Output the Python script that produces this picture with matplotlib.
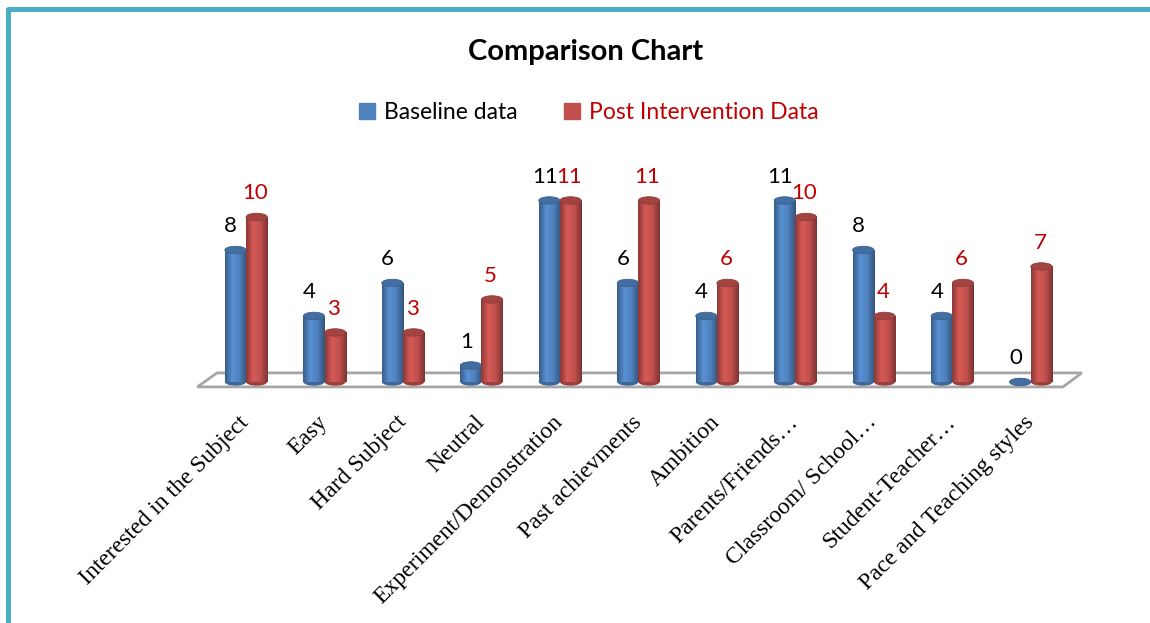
import numpy as np
import matplotlib
matplotlib.use("Agg")
import matplotlib.pyplot as plt
from matplotlib.patches import Ellipse, Polygon, Patch
from matplotlib.lines import Line2D
from matplotlib.colors import LinearSegmentedColormap

categories = ["Interested in the Subject", "Easy", "Hard Subject", "Neutral",
              "Experiment/Demonstration", "Past achievments", "Ambition",
              "Parents/Friends…", "Classroom/ School…", "Student-Teacher…",
              "Pace and Teaching styles"]
baseline = [8, 4, 6, 1, 11, 6, 4, 11, 8, 4, 0]
post = [10, 3, 3, 5, 11, 11, 6, 10, 4, 6, 7]

BLUE = "#4F81BD"
RED = "#C0504D"
LABEL_RED = "#C00000"

plt.rcParams['font.family'] = ['Lato', 'DejaVu Sans']

fig = plt.figure(figsize=(11.5, 6.23), dpi=100)
ax = fig.add_axes([0.173, 0.3763, 0.7643, 0.3284])
ax.set_xlim(-0.6, 10.6)
ax.set_ylim(-0.4, 12)

x = np.arange(len(categories))
w = 0.27

# floor of the 3d plot
floor = Polygon([(-0.62, -0.3), (10.41, -0.3), (10.65, 0.55), (-0.37, 0.55)],
                closed=True, facecolor="white", edgecolor="#A6A6A6",
                lw=2, zorder=1, clip_on=False)
ax.add_patch(floor)

def cyl_cmap(c):
    rgb = np.array(matplotlib.colors.to_rgb(c))
    dark = rgb * 0.72
    light = np.minimum(rgb * 1.12, 1)
    return LinearSegmentedColormap.from_list("c", [dark, light, rgb, dark * 0.9])

grad = np.linspace(0, 1, 64).reshape(1, -1)

for vals, off, col in [(baseline, -w / 2, BLUE), (post, w / 2, RED)]:
    bars = ax.bar(x + off, vals, width=w, color=col, zorder=3)
    cm = cyl_cmap(col)
    rgb = np.array(matplotlib.colors.to_rgb(col))
    for b, v in zip(bars, vals):
        bx = b.get_x()
        if v > 0:
            im = ax.imshow(grad, cmap=cm, aspect="auto",
                           extent=[bx, bx + w, 0, v], zorder=3.1)
            im.set_clip_path(b)
        ax.add_patch(Ellipse((bx + w / 2, 0), w, 0.45,
                             facecolor=rgb * 0.8, zorder=2.9))
        ax.add_patch(Ellipse((bx + w / 2, v), w, 0.45,
                             facecolor=rgb * 0.85, edgecolor=rgb * 0.75,
                             lw=0.6, zorder=3.3))

for i in range(len(categories)):
    ax.annotate(str(baseline[i]), (x[i] - w / 2 - 0.06, baseline[i]),
                xytext=(0, 17), textcoords="offset points", ha="center",
                va="center", fontsize=16, color="black", zorder=5)
    ax.annotate(str(post[i]), (x[i] + w / 2 - 0.02, post[i]),
                xytext=(0, 17), textcoords="offset points", ha="center",
                va="center", fontsize=16, color=LABEL_RED, zorder=5)

ax.set_xticks(x)
ax.set_xticklabels(categories, rotation=45, ha="right", va="center",
                   rotation_mode="anchor", fontsize=17,
                   family="Liberation Serif")
ax.tick_params(axis="x", length=0, pad=22)
ax.set_yticks([])
for s in ax.spines.values():
    s.set_visible(False)
ax.patch.set_alpha(0)

fig.text(0.509, 0.917, "Comparison Chart", ha="center", va="center",
         fontsize=21, fontweight="bold")

# legend
handles = [Patch(color=BLUE, label="Baseline data"),
           Patch(color=RED, label="Post Intervention Data")]
fig.legend(handles=handles, loc="center", bbox_to_anchor=(0.512, 0.82),
           ncol=2, frameon=False, fontsize=16.5, handlelength=0.7,
           handleheight=0.7, handletextpad=0.4, columnspacing=2.0,
           labelcolor=["black", LABEL_RED])

# outer border, only top and left edges are in view
bx0, by0 = 8 / 1150, 1 - 8.5 / 623
fig.add_artist(Line2D([bx0, bx0, 1.01], [-0.01, by0, by0],
                      transform=fig.transFigure, color="#4BACC6",
                      lw=3.6, solid_joinstyle="round"))

fig.savefig("out.png", dpi=100, facecolor="white")
